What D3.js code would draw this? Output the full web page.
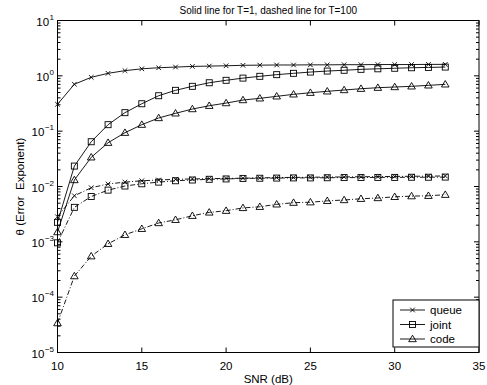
<!DOCTYPE html>
<html>
<head>
<meta charset="utf-8">
<script src="https://cdn.jsdelivr.net/npm/d3@7"></script>
<style>
  body { margin: 0; background: #fff; }
  svg { font-family: "Liberation Sans", Arial, sans-serif; }
</style>
</head>
<body>
<svg id="chart" width="487" height="385"></svg>
<script>
// SNR points (dB)
const snr = d3.range(10, 34);

// solid lines, T=1
const queueT1 = [0.306, 0.705, 0.94, 1.11, 1.24, 1.34, 1.40, 1.44, 1.48, 1.50, 1.52, 1.55,
  1.56, 1.57, 1.57, 1.58, 1.58, 1.59, 1.59, 1.60, 1.60, 1.60, 1.61, 1.61];
const jointT1 = [0.00225, 0.0234, 0.0644, 0.131, 0.216, 0.313, 0.437, 0.547, 0.646, 0.75, 0.83, 0.91,
  0.98, 1.05, 1.11, 1.17, 1.22, 1.26, 1.31, 1.34, 1.37, 1.40, 1.42, 1.44];
const codeT1 = [0.0015, 0.0131, 0.0337, 0.0618, 0.0937, 0.131, 0.173, 0.21, 0.251, 0.288, 0.322, 0.365,
  0.392, 0.426, 0.463, 0.495, 0.525, 0.554, 0.585, 0.61, 0.628, 0.646, 0.673, 0.702];

// dashed lines, T=100
const queueT100 = [0.00284, 0.0068, 0.0095, 0.0111, 0.012, 0.0127, 0.0131, 0.0135, 0.0137, 0.0139, 0.014, 0.0141,
  0.0143, 0.0145, 0.0146, 0.0147, 0.0148, 0.0149, 0.015, 0.0151, 0.0152, 0.0153, 0.0154, 0.0155];
const jointT100 = [0.00096, 0.0042, 0.0066, 0.0086, 0.0102, 0.0112, 0.012, 0.0127, 0.0131, 0.0135, 0.0137, 0.014,
  0.0141, 0.0142, 0.0143, 0.0143, 0.0144, 0.0145, 0.0145, 0.0146, 0.0146, 0.0147, 0.0147, 0.0148];
const codeT100 = [0.000034, 0.00024, 0.00055, 0.00092, 0.00134, 0.00172, 0.00219, 0.0025, 0.00296, 0.0034, 0.00365, 0.0041,
  0.0043, 0.00476, 0.0051, 0.0052, 0.0055, 0.0057, 0.006, 0.0062, 0.0065, 0.0067, 0.0068, 0.0071];

const xTicks = [10, 15, 20, 25, 30, 35];
const yTicks = [1e-5, 1e-4, 1e-3, 1e-2, 1e-1, 1, 10];
const legendNames = ['queue', 'joint', 'code'];

const svg = d3.select('#chart');
const pLeft = 57.5, pRight = 479, pTop = 20.5, pBottom = 352.5;

const x = d3.scaleLinear().domain([10, 35]).range([pLeft, pRight]);
const y = d3.scaleLog().domain([1e-5, 10]).range([pBottom, pTop]);

// minor ticks
const minor = [];
for (let e = -5; e < 1; e++) {
  for (let m = 2; m <= 9; m++) minor.push(m * Math.pow(10, e));
}

const axes = svg.append('g').attr('stroke', '#000').attr('stroke-width', 1);
axes.append('rect')
  .attr('x', pLeft).attr('y', pTop)
  .attr('width', pRight - pLeft).attr('height', pBottom - pTop)
  .attr('fill', 'none');

xTicks.forEach(t => {
  axes.append('line').attr('x1', x(t)).attr('x2', x(t)).attr('y1', pBottom).attr('y2', pBottom - 5);
  axes.append('line').attr('x1', x(t)).attr('x2', x(t)).attr('y1', pTop).attr('y2', pTop + 5);
});
yTicks.forEach(t => {
  axes.append('line').attr('x1', pLeft).attr('x2', pLeft + 5).attr('y1', y(t)).attr('y2', y(t));
  axes.append('line').attr('x1', pRight).attr('x2', pRight - 5).attr('y1', y(t)).attr('y2', y(t));
});
minor.forEach(t => {
  axes.append('line').attr('x1', pLeft).attr('x2', pLeft + 3).attr('y1', y(t)).attr('y2', y(t));
  axes.append('line').attr('x1', pRight).attr('x2', pRight - 3).attr('y1', y(t)).attr('y2', y(t));
});

// tick labels
svg.append('g').selectAll('text')
  .data(xTicks).enter().append('text')
  .attr('x', d => x(d)).attr('y', 370)
  .attr('text-anchor', 'middle')
  .attr('font-size', 11.5)
  .text(d => d);

const yl = svg.append('g').selectAll('text')
  .data(yTicks).enter().append('text')
  .attr('x', 54).attr('y', d => y(d) + 5)
  .attr('text-anchor', 'end')
  .attr('font-size', 11.5);
yl.append('tspan').text('10');
yl.append('tspan')
  .attr('font-size', 8)
  .attr('dy', -6)
  .attr('dx', 0.5)
  .text(d => {
    const e = Math.round(Math.log10(d));
    return e < 0 ? '\u2212' + (-e) : String(e);
  });

svg.append('text')
  .attr('x', (pLeft + pRight) / 2).attr('y', 14)
  .attr('text-anchor', 'middle').attr('font-size', 10)
  .text('Solid line for T=1, dashed line for T=100');

svg.append('text')
  .attr('x', (pLeft + pRight) / 2).attr('y', 383)
  .attr('text-anchor', 'middle').attr('font-size', 11.5)
  .text('SNR (dB)');

svg.append('text')
  .attr('transform', 'translate(24,' + ((pTop + pBottom) / 2) + ') rotate(-90)')
  .attr('text-anchor', 'middle').attr('font-size', 11.5)
  .attr('xml:space', 'preserve')
  .text('\u03b8 (Error  Exponent)');

// series
const series = [
  { values: queueT1, marker: 'x', dash: null },
  { values: jointT1, marker: 'square', dash: null },
  { values: codeT1, marker: 'triangle', dash: null },
  { values: queueT100, marker: 'x', dash: '5,2,1,2' },
  { values: jointT100, marker: 'square', dash: '5,2,1,2' },
  { values: codeT100, marker: 'triangle', dash: '5,2,1,2' }
];

const line = d3.line().x((d, i) => x(snr[i])).y(d => y(d));

function drawMarker(g, type, cx, cy) {
  if (type === 'x') {
    const s = 2.3;
    g.append('path')
      .attr('d', `M${cx - s},${cy - s}L${cx + s},${cy + s}M${cx - s},${cy + s}L${cx + s},${cy - s}`)
      .attr('stroke', '#000').attr('stroke-width', 0.9).attr('fill', 'none');
  } else if (type === 'square') {
    const s = 3;
    g.append('rect')
      .attr('x', cx - s).attr('y', cy - s).attr('width', 2 * s).attr('height', 2 * s)
      .attr('stroke', '#000').attr('stroke-width', 0.9).attr('fill', 'none');
  } else {
    const s = 3.8;
    g.append('path')
      .attr('d', `M${cx},${cy - s}L${cx + s},${cy + s * 0.7}L${cx - s},${cy + s * 0.7}Z`)
      .attr('stroke', '#000').attr('stroke-width', 0.9).attr('fill', 'none');
  }
}

const plot = svg.append('g');
series.forEach(s => {
  plot.append('path')
    .datum(s.values)
    .attr('d', line)
    .attr('fill', 'none')
    .attr('stroke', '#000')
    .attr('stroke-width', 0.9)
    .attr('stroke-dasharray', s.dash);
  s.values.forEach((v, i) => drawMarker(plot, s.marker, x(snr[i]), y(v)));
});

// legend
const lg = svg.append('g');
lg.append('rect')
  .attr('x', 393).attr('y', 300).attr('width', 86).attr('height', 47)
  .attr('fill', '#fff').attr('stroke', '#000').attr('stroke-width', 1);
const legendMarkers = ['x', 'square', 'triangle'];
legendNames.forEach((name, i) => {
  const ly = 310 + i * 14.5;
  lg.append('line').attr('x1', 400).attr('x2', 425).attr('y1', ly).attr('y2', ly)
    .attr('stroke', '#000').attr('stroke-width', 0.9);
  drawMarker(lg, legendMarkers[i], 412.5, ly);
  lg.append('text').attr('x', 430).attr('y', ly + 4)
    .attr('font-size', 11.5).text(name);
});
</script>
</body>
</html>
